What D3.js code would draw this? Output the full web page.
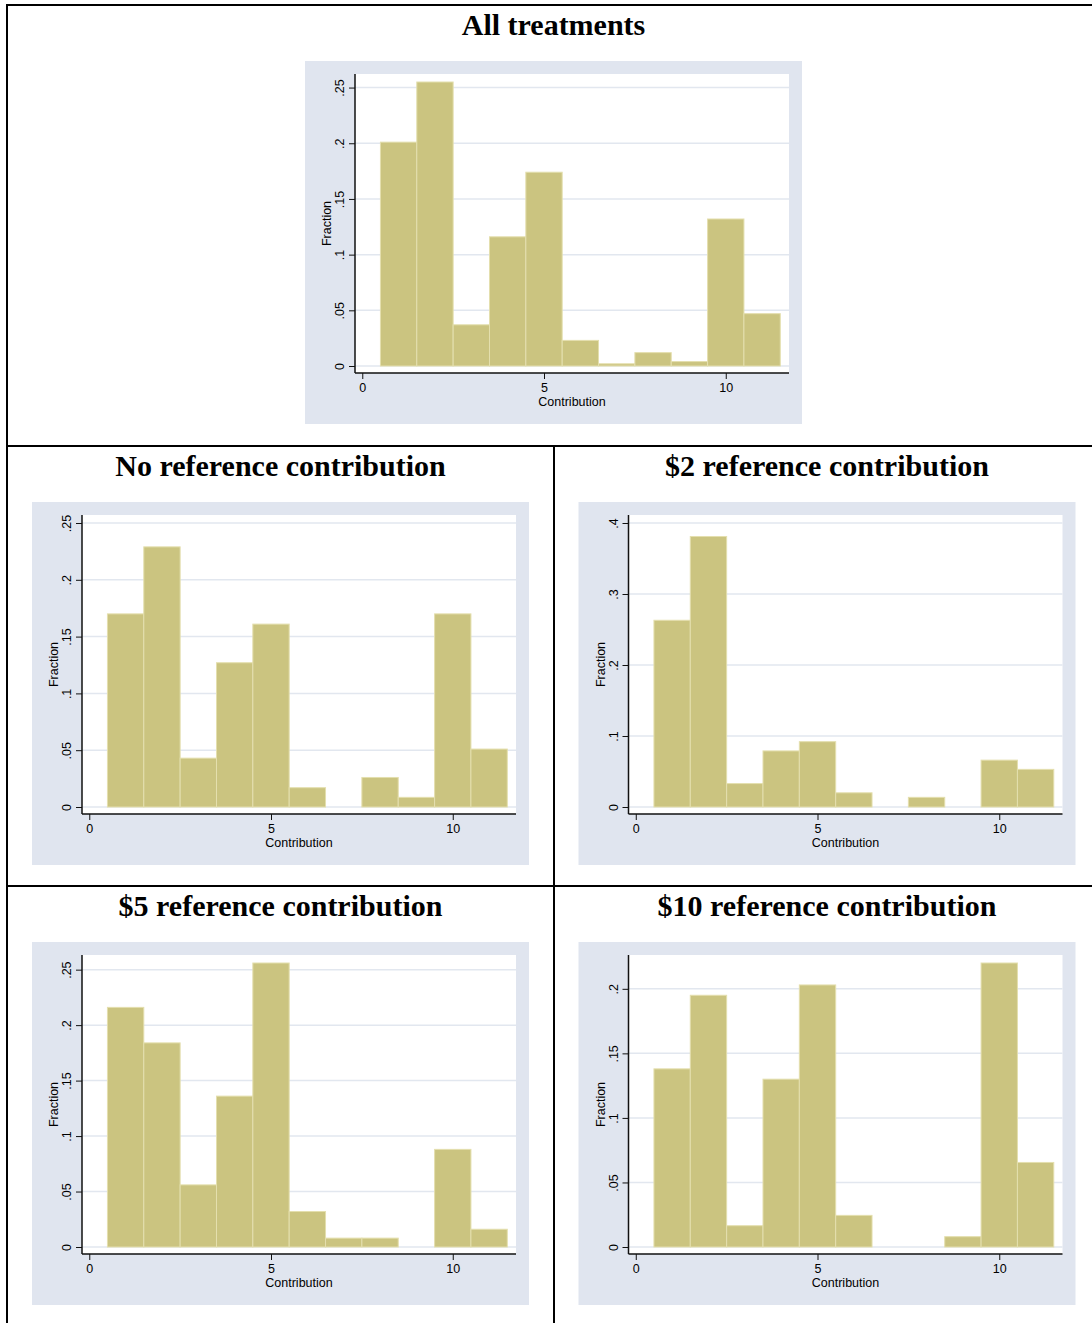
<!DOCTYPE html>
<html>
<head>
<meta charset="utf-8">
<script src="https://cdn.jsdelivr.net/npm/d3@7"></script>
<style>
  html, body { margin: 0; padding: 0; background: #fff; }
  svg { display: block; }
</style>
</head>
<body>
<div id="chart"></div>
<script>
// Histogram bins (contribution values 1..11, bin width 1)
const binCenters = [1, 2, 3, 4, 5, 6, 7, 8, 9, 10, 11];

// Fraction per bin
const allTreatments = [0.201, 0.255, 0.037, 0.116, 0.174, 0.023, 0.002, 0.012, 0.004, 0.132, 0.047];
const noReference = [0.170, 0.229, 0.043, 0.127, 0.161, 0.017, 0, 0.026, 0.0085, 0.170, 0.051];
const ref2 = [0.263, 0.381, 0.033, 0.079, 0.092, 0.020, 0, 0.0136, 0, 0.066, 0.053];
const ref5 = [0.216, 0.184, 0.056, 0.136, 0.256, 0.032, 0.008, 0.008, 0, 0.088, 0.016];
const ref10 = [0.138, 0.195, 0.0165, 0.130, 0.203, 0.0245, 0, 0, 0.008, 0.220, 0.0655];

const xTicks = [0, 5, 10];
const yTicksQuarter = [0, 0.05, 0.1, 0.15, 0.2, 0.25];
const yLabelsQuarter = ['0', '.05', '.1', '.15', '.2', '.25'];
const yTicksTenths = [0, 0.1, 0.2, 0.3, 0.4];
const yLabelsTenths = ['0', '.1', '.2', '.3', '.4'];
const yTicksFifth = [0, 0.05, 0.1, 0.15, 0.2];
const yLabelsFifth = ['0', '.05', '.1', '.15', '.2'];

const WIDTH = 1092;
const HEIGHT = 1323;
const TABLE = { LEFT: 7, TOP: 5, RIGHT: 1100, ROW2: 446, ROW3: 886, MID: 554 };
const PANEL = { WIDTH: 497, HEIGHT: 363 };
const MARGIN = { LEFT: 50, TOP: 13, RIGHT: 13, BOTTOM: 51 };
const PLOT_WIDTH = PANEL.WIDTH - MARGIN.LEFT - MARGIN.RIGHT;
const PLOT_HEIGHT = PANEL.HEIGHT - MARGIN.TOP - MARGIN.BOTTOM;
const TITLE_OFFSET = 30;
const PANEL_OFFSET = 56;

const COLORS = {
  background: '#e0e5ef',
  grid: '#e2e7ef',
  bar: '#cbc480',
  barStroke: '#e4dfae',
  axis: '#111',
};
const AXIS_FONT = '"Liberation Sans", Arial, sans-serif';
const TITLE_FONT = '"Liberation Serif", "Times New Roman", serif';

const panels = [
  { title: 'All treatments', values: allTreatments, ticks: yTicksQuarter, labels: yLabelsQuarter,
    cellLeft: TABLE.LEFT, cellRight: TABLE.RIGHT, cellTop: TABLE.TOP },
  { title: 'No reference contribution', values: noReference, ticks: yTicksQuarter, labels: yLabelsQuarter,
    cellLeft: TABLE.LEFT, cellRight: TABLE.MID, cellTop: TABLE.ROW2 },
  { title: '$2 reference contribution', values: ref2, ticks: yTicksTenths, labels: yLabelsTenths,
    cellLeft: TABLE.MID, cellRight: TABLE.RIGHT, cellTop: TABLE.ROW2 },
  { title: '$5 reference contribution', values: ref5, ticks: yTicksQuarter, labels: yLabelsQuarter,
    cellLeft: TABLE.LEFT, cellRight: TABLE.MID, cellTop: TABLE.ROW3 },
  { title: '$10 reference contribution', values: ref10, ticks: yTicksFifth, labels: yLabelsFifth,
    cellLeft: TABLE.MID, cellRight: TABLE.RIGHT, cellTop: TABLE.ROW3 },
];

const svg = d3.select('#chart')
  .append('svg')
  .attr('width', WIDTH)
  .attr('height', HEIGHT);

svg.append('rect').attr('width', WIDTH).attr('height', HEIGHT).attr('fill', '#fff');

const createHistogram = (g, { values, ticks, labels }) => {
  const x = d3.scaleLinear([-0.2, 11.74], [0, PLOT_WIDTH]);
  const yMax = Math.max(d3.max(values), d3.max(ticks));
  const y = d3.scaleLinear([0, yMax], [PLOT_HEIGHT - 7, 8]);

  g.append('rect')
    .attr('width', PLOT_WIDTH)
    .attr('height', PLOT_HEIGHT)
    .attr('fill', '#fff');

  g.append('g')
    .selectAll('line')
    .data(ticks)
    .join('line')
    .attr('x1', 0)
    .attr('x2', PLOT_WIDTH)
    .attr('y1', (d) => y(d))
    .attr('y2', (d) => y(d))
    .attr('stroke', COLORS.grid)
    .attr('stroke-width', 1.5);

  const bins = binCenters
    .map((c, i) => ({ x0: c - 0.5, x1: c + 0.5, value: values[i] }))
    .filter((d) => d.value > 0);

  g.append('g')
    .selectAll('rect')
    .data(bins)
    .join('rect')
    .attr('x', (d) => x(d.x0))
    .attr('width', (d) => x(d.x1) - x(d.x0))
    .attr('y', (d) => y(d.value))
    .attr('height', (d) => y(0) - y(d.value))
    .attr('fill', COLORS.bar)
    .attr('stroke', COLORS.barStroke)
    .attr('stroke-width', 1);

  const yAxis = d3.axisLeft(y)
    .tickValues(ticks)
    .tickFormat((d, i) => labels[i])
    .tickSizeInner(6)
    .tickSizeOuter(0);
  const yAxisGroup = g.append('g').call(yAxis);
  yAxisGroup.select('.domain').remove();
  yAxisGroup.selectAll('line').attr('stroke', COLORS.axis);
  yAxisGroup.selectAll('text')
    .attr('transform', 'rotate(-90)')
    .attr('x', 0)
    .attr('y', -11)
    .attr('dy', 0)
    .style('text-anchor', 'middle');

  const xAxis = d3.axisBottom(x)
    .tickValues(xTicks)
    .tickFormat(d3.format('d'))
    .tickSizeInner(6)
    .tickSizeOuter(0)
    .tickPadding(4);
  const xAxisGroup = g.append('g')
    .attr('transform', `translate(0, ${PLOT_HEIGHT})`)
    .call(xAxis);
  xAxisGroup.select('.domain').remove();
  xAxisGroup.selectAll('line').attr('stroke', COLORS.axis);

  [yAxisGroup, xAxisGroup].forEach((a) => a.selectAll('text')
    .attr('fill', '#000')
    .style('font-family', AXIS_FONT)
    .style('font-size', '12.5px'));

  // axis lines span the whole plot region
  g.append('line')
    .attr('x1', 0).attr('x2', 0)
    .attr('y1', 0).attr('y2', PLOT_HEIGHT)
    .attr('stroke', COLORS.axis)
    .attr('stroke-width', 1.5);
  g.append('line')
    .attr('x1', 0).attr('x2', PLOT_WIDTH)
    .attr('y1', PLOT_HEIGHT).attr('y2', PLOT_HEIGHT)
    .attr('stroke', COLORS.axis)
    .attr('stroke-width', 1.5);

  g.append('text')
    .attr('transform', 'rotate(-90)')
    .attr('x', -PLOT_HEIGHT / 2)
    .attr('y', -24)
    .style('text-anchor', 'middle')
    .style('font-family', AXIS_FONT)
    .style('font-size', '12.5px')
    .text('Fraction');

  g.append('text')
    .attr('x', PLOT_WIDTH / 2)
    .attr('y', PLOT_HEIGHT + 33)
    .style('text-anchor', 'middle')
    .style('font-family', AXIS_FONT)
    .style('font-size', '12.5px')
    .text('Contribution');
};

panels.forEach((panel) => {
  const center = (panel.cellLeft + panel.cellRight) / 2;

  svg.append('text')
    .attr('x', center)
    .attr('y', panel.cellTop + TITLE_OFFSET)
    .style('text-anchor', 'middle')
    .style('font-family', TITLE_FONT)
    .style('font-weight', 'bold')
    .style('font-size', '30px')
    .text(panel.title);

  const panelGroup = svg.append('g')
    .attr('transform', `translate(${center - PANEL.WIDTH / 2}, ${panel.cellTop + PANEL_OFFSET})`);

  panelGroup.append('rect')
    .attr('width', PANEL.WIDTH)
    .attr('height', PANEL.HEIGHT)
    .attr('fill', COLORS.background);

  createHistogram(
    panelGroup.append('g').attr('transform', `translate(${MARGIN.LEFT}, ${MARGIN.TOP})`),
    panel,
  );
});

// table borders
const borders = [
  [TABLE.LEFT - 1, TABLE.TOP, TABLE.RIGHT, TABLE.TOP],
  [TABLE.LEFT, TABLE.TOP - 1, TABLE.LEFT, HEIGHT],
  [TABLE.LEFT, TABLE.ROW2, TABLE.RIGHT, TABLE.ROW2],
  [TABLE.LEFT, TABLE.ROW3, TABLE.RIGHT, TABLE.ROW3],
  [TABLE.MID, TABLE.ROW2, TABLE.MID, HEIGHT],
];
svg.append('g')
  .selectAll('line')
  .data(borders)
  .join('line')
  .attr('x1', (d) => d[0])
  .attr('y1', (d) => d[1])
  .attr('x2', (d) => d[2])
  .attr('y2', (d) => d[3])
  .attr('stroke', '#000')
  .attr('stroke-width', 2);
</script>
</body>
</html>
